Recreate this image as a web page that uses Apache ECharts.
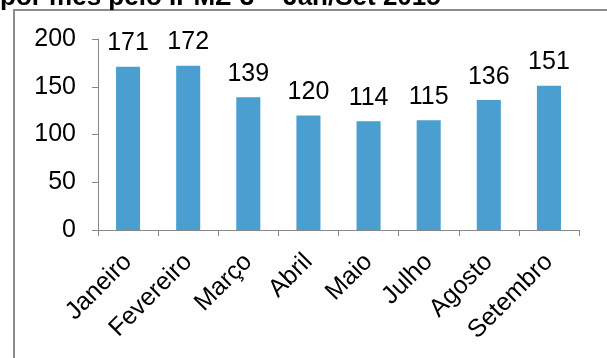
<!DOCTYPE html>
<html><head><meta charset="utf-8">
<script src="https://cdn.jsdelivr.net/npm/echarts@6/dist/echarts.min.js"></script>
<style>html,body{margin:0;padding:0;background:#fff}#c{width:607px;height:358px}</style>
</head><body><div id="c"></div>
<script>
const titleText = 'por mês pelo IPMZ-3 – Jan/Set 2015';
const categories = ['Janeiro','Fevereiro','Março','Abril','Maio','Julho','Agosto','Setembro'];
const values = [171,172,139,120,114,115,136,151];
const yTicks = [0,50,100,150,200];

const FONT = '"Liberation Sans", Arial, sans-serif';
const chart = echarts.init(document.getElementById('c'));
chart.setOption({
  animation:false,
  graphic:[
    {type:'line', shape:{x1:14,y1:10,x2:14,y2:358}, style:{stroke:'#8c8c8c',lineWidth:2}},
    {type:'line', shape:{x1:13,y1:10,x2:607,y2:10}, style:{stroke:'#8c8c8c',lineWidth:2}},
    {type:'text', x:0, y:11, style:{text:titleText, font:'bold 26px ' + FONT, fill:'#000', textVerticalAlign:'bottom'}}
  ],
  grid:{left:98,right:28,top:39,bottom:128},
  xAxis:{
    type:'category', data:categories,
    axisLine:{lineStyle:{color:'#888',width:1}},
    axisTick:{show:true,length:6,lineStyle:{color:'#888'}},
    axisLabel:{rotate:45,fontSize:25,color:'#000',fontFamily:FONT,margin:28,interval:0}
  },
  yAxis:{
    type:'value', min:yTicks[0], max:yTicks[yTicks.length-1], interval:50,
    axisLine:{show:true,lineStyle:{color:'#888',width:1}},
    axisTick:{show:true,length:6,lineStyle:{color:'#888'}},
    splitLine:{show:false},
    axisLabel:{fontSize:25,color:'#000',fontFamily:FONT,margin:22}
  },
  series:[{
    type:'bar', data:values, barWidth:'40%',
    itemStyle:{color:'#4a9fd0'},
    label:{show:true,position:'top',fontSize:25,color:'#000',fontFamily:FONT,distance:11}
  }]
});
</script></body></html>
